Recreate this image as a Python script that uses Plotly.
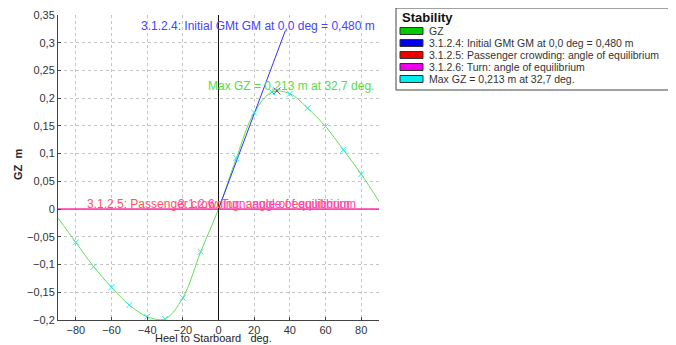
import plotly.graph_objects as go

heel = [-90, -80, -70, -60, -50, -40, -30, -20, -10, 0, 10, 20, 30, 40, 50, 60, 70, 80, 90]
gz = [-0.016, -0.060, -0.104, -0.141, -0.173, -0.194, -0.198, -0.160, -0.077, 0.0,
      0.092, 0.174, 0.211, 0.208, 0.182, 0.149, 0.107, 0.063, 0.014]
mark_heel = [-80, -70, -60, -50, -40, -30, -20, -10, 10, 20, 30, 40, 50, 60, 70, 80]
mark_gz = [-0.060, -0.104, -0.141, -0.173, -0.194, -0.198, -0.160, -0.077,
           0.092, 0.174, 0.211, 0.208, 0.182, 0.149, 0.107, 0.063]
gm_heel = [0, 37.5]
gm_gz = [0, 0.322]
max_heel = [32.7]
max_gz = [0.213]
equil_heel = [-90, 90]
equil_gz = [0, 0]

legend_title = "Stability"
legend_items = ["GZ", "3.1.2.4: Initial GMt GM at 0,0 deg = 0,480 m",
                "3.1.2.5: Passenger crowding: angle of equilibrium",
                "3.1.2.6: Turn: angle of equilibrium",
                "Max GZ = 0,213 m at 32,7 deg."]
legend_colors = ["#00cc00", "#0000ee", "#ee0000", "#ee00ee", "#00eeee"]

FONT = "Liberation Sans, Arial, sans-serif"

# page body has an 8px margin; plot area in window pixels: x 58..379, y 15..320
OFF = 8
W, H = 676, 345
L, T = 58 - OFF, 15 - OFF
R = W - (379 - OFF)
B = H - (320 - OFF)
pw, ph = W - L - R, H - T - B


def px(x):
    return (x - 58) / pw


def py(y):
    return (320 - y) / ph


fig = go.Figure()
fig.add_trace(go.Scatter(x=equil_heel, y=equil_gz, mode="lines",
                         line=dict(color="#ff0000", width=1), showlegend=False))
fig.add_trace(go.Scatter(x=equil_heel, y=equil_gz, mode="lines",
                         line=dict(color="#ff33ff", width=1), showlegend=False))
fig.add_trace(go.Scatter(x=heel, y=gz, mode="lines", line=dict(color="#66dd55", width=1, shape="spline"),
                         showlegend=False))
fig.add_trace(go.Scatter(x=gm_heel, y=gm_gz, mode="lines", line=dict(color="#3333ff", width=1),
                         showlegend=False))
fig.add_trace(go.Scatter(x=mark_heel, y=mark_gz, mode="markers",
                         marker=dict(symbol="x-thin-open", size=6, color="#22eeee",
                                     line=dict(color="#22eeee", width=1)),
                         showlegend=False))
fig.add_trace(go.Scatter(x=max_heel, y=max_gz, mode="markers",
                         marker=dict(symbol="x-thin-open", size=7, color="#555555",
                                     line=dict(color="#555555", width=1)),
                         showlegend=False))

ann = []
ann.append(dict(x=px(377), y=py(26), xref="paper", yref="paper",
                text="3.1.2.4: Initial GMt GM at 0,0 deg = 0,480 m",
                showarrow=False, xanchor="right", yanchor="middle",
                font=dict(family=FONT, size=12, color="#4444ff")))
ann.append(dict(x=px(376), y=py(86), xref="paper", yref="paper", text="Max GZ = 0,213 m at 32,7 deg.",
                showarrow=False, xanchor="right", yanchor="middle",
                font=dict(family=FONT, size=12, color="#55dd44")))
ann.append(dict(x=px(85), y=py(204), xref="paper", yref="paper",
                text="3.1.2.5: Passenger crowding: angle of equilibrium",
                showarrow=False, xanchor="left", yanchor="middle",
                font=dict(family=FONT, size=12, color="#ff5555")))
ann.append(dict(x=px(358), y=py(204), xref="paper", yref="paper",
                text="3.1.2.6: Turn: angle of equilibrium",
                showarrow=False, xanchor="right", yanchor="middle",
                font=dict(family=FONT, size=12, color="#ff44cc")))
ann.append(dict(x=px(213), y=py(338), xref="paper", yref="paper", text="Heel to Starboard   deg.",
                showarrow=False, xanchor="center", yanchor="middle",
                font=dict(family=FONT, size=11, color="#222222")))
ann.append(dict(x=px(18), y=py(165), xref="paper", yref="paper", text="<b>GZ  m</b>", textangle=-90,
                showarrow=False, xanchor="center", yanchor="middle",
                font=dict(family=FONT, size=11, color="#222222")))

shapes = []
shapes.append(dict(type="rect", xref="paper", yref="paper", x0=px(396), x1=px(690), y0=py(90), y1=py(8),
                   line=dict(color="#444444", width=1), fillcolor="white"))
ann.append(dict(x=px(400), y=py(18), xref="paper", yref="paper", text="<b>" + legend_title + "</b>",
                showarrow=False, xanchor="left", yanchor="middle",
                font=dict(family=FONT, size=13, color="#111111")))
for i, (t, c) in enumerate(zip(legend_items, legend_colors)):
    yc = 31 + 12 * i
    shapes.append(dict(type="rect", xref="paper", yref="paper", x0=px(400), x1=px(423),
                       y0=py(yc + 3.5), y1=py(yc - 3.5), line=dict(color="#333333", width=1), fillcolor=c))
    ann.append(dict(x=px(427), y=py(yc), xref="paper", yref="paper", text=t, showarrow=False,
                    xanchor="left", yanchor="middle", font=dict(family=FONT, size=10.5, color="#333333")))

shapes.append(dict(type="line", xref="x", yref="paper", x0=0, x1=0, y0=0, y1=1,
                   line=dict(color="#111111", width=1)))

fig.update_layout(
    width=W, height=H, margin=dict(l=L, r=R, t=T, b=B, autoexpand=False),
    paper_bgcolor="white", plot_bgcolor="white",
    separators=", ",
    annotations=ann, shapes=shapes,
    font=dict(family=FONT, size=11, color="#333333"),
    xaxis=dict(range=[-90, 90], tickvals=[-80, -60, -40, -20, 0, 20, 40, 60, 80], automargin=False,
               showgrid=True, gridcolor="#c4c4c4", griddash="dot", gridwidth=1,
               zeroline=False, showline=True, linecolor="#444444", linewidth=1,
               ticks="inside", ticklen=3, tickcolor="#444444", tickfont=dict(size=11, color="#333333")),
    yaxis=dict(range=[-0.2, 0.35], dtick=0.05, tickformat=".2~f", automargin=False,
               showgrid=True, gridcolor="#c4c4c4", griddash="dot", gridwidth=1,
               zeroline=False, showline=True, linecolor="#444444", linewidth=1,
               ticks="inside", ticklen=3, tickcolor="#444444", tickfont=dict(size=11, color="#333333")),
)

fig.write_html("out.html")
